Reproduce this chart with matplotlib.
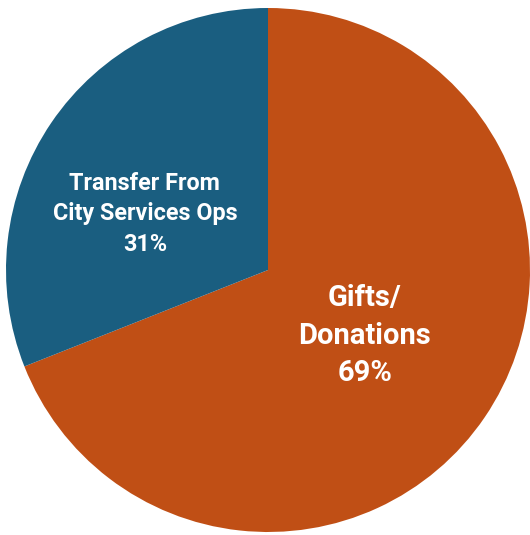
import matplotlib.pyplot as plt

labels = ["Gifts/\nDonations", "Transfer From\nCity Services Ops"]
shares = [69, 31]
colors = ["#C04F15", "#1A5E80"]

fig = plt.figure(figsize=(5.3, 5.35), dpi=100)
ax = fig.add_axes([0, 0, 1, 1])

ax.pie(shares, colors=colors, startangle=90, counterclock=False,
       radius=1.0, wedgeprops=dict(linewidth=0))

# label positions in pie units (centre = 0, radius = 1)
label_pos = [(0.37, -0.25), (-0.47, 0.215)]
label_size = [21, 16.8]
for lab, val, (x, y), fs in zip(labels, shares, label_pos, label_size):
    ax.text(x, y, f"{lab}\n{val}%", ha="center", va="center", color="white",
            fontsize=fs, fontweight="bold", linespacing=1.42,
            family=["Liberation Sans Narrow", "Roboto", "DejaVu Sans"])

ax.set_xlim(-268 / 262, 262 / 262)
ax.set_ylim(-265 / 262, 270 / 262)
ax.set_aspect("equal")
ax.axis("off")

fig.savefig("out.png", dpi=100, facecolor="white")
